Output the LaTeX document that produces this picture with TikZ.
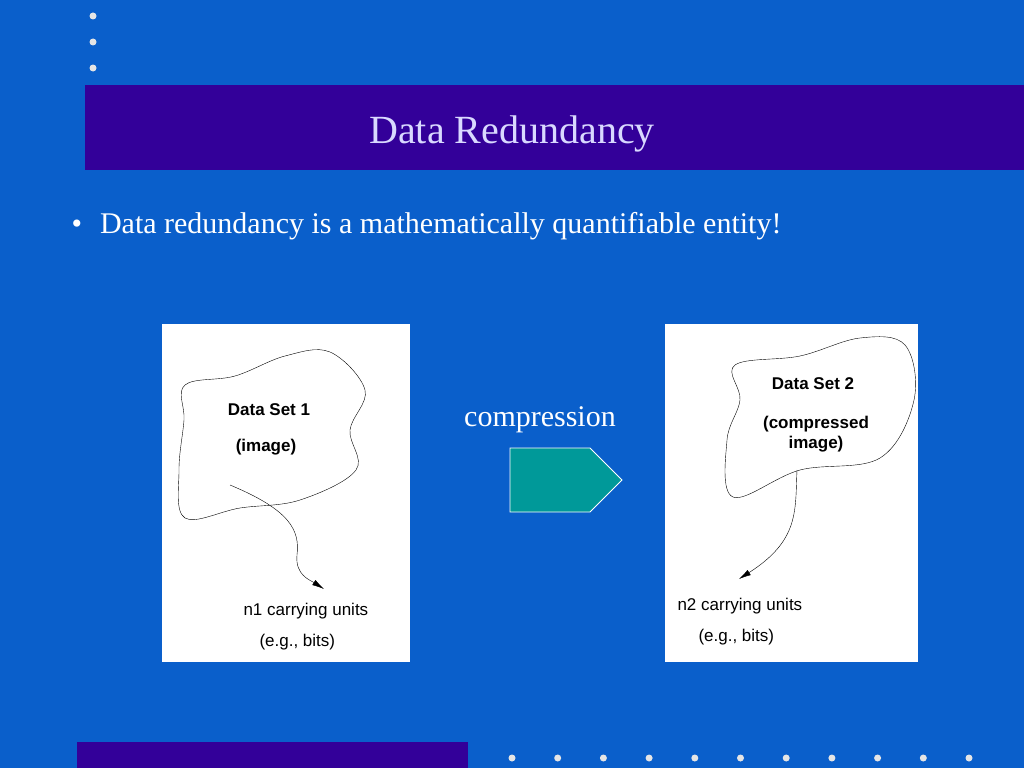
\documentclass[tikz,border=0pt]{standalone}
\usepackage{fontspec}
\setmainfont{Liberation Serif}
\newfontfamily\sansf{Liberation Sans}
\usetikzlibrary{shapes.arrows,arrows.meta}
\definecolor{bg}{HTML}{0A5FCB}
\definecolor{bar}{HTML}{330099}
\definecolor{teal1}{HTML}{009999}
\tikzset{dot/.style={circle,fill=white!80!gray,inner sep=0pt,minimum size=7pt},
 lbl/.style={font=\sansf\bfseries\fontsize{17}{20}\selectfont,align=center},
 unit/.style={font=\sansf\fontsize{17}{20}\selectfont},
 blob/.style={thin,black},
 pointer/.style={thin,black,-{Latex[length=12pt,width=6pt]}}}
\begin{document}
\begin{tikzpicture}[x=1pt,y=-1pt]
\useasboundingbox (0,0) rectangle (1024,768);
\fill[bg] (0,0) rectangle (1024,768);
\fill[bar] (85,85) rectangle (1024,170);
\fill[bar] (77,742) rectangle (468,768);
\foreach \y [count=\i] in {16,42,68} \node[dot] (d\i) at (93,\y) {};
\foreach \i in {0,...,10} \node[dot] (b\i) at (512+\i*45.7,758) {};
\node[text=white!85!blue,font=\fontsize{40}{44}\selectfont] (title) at (512,134) {Data Redundancy};
\node[text=white,font=\fontsize{30}{34}\selectfont,anchor=west] (bul) at (68,226) {\textbullet\hspace{18pt}Data redundancy is a mathematically quantifiable entity!};
\node[fill=white,minimum width=248pt,minimum height=338pt,inner sep=0pt] (p1) at (286,493) {};
\node[fill=white,minimum width=253pt,minimum height=338pt,inner sep=0pt] (p2) at (791.5,493) {};
\draw[blob] plot[smooth cycle,tension=0.6] coordinates {(185,385)(235,376)(285,356)(330,352)(365,390)(350,430)(356,470)(300,500)(240,508)(185,518)(179,470)(184,420)};
\draw[blob] plot[smooth cycle,tension=0.6] coordinates {(735,365)(800,356)(860,338)(905,345)(914,400)(880,458)(800,470)(733,497)(727,440)(740,400)};
\node[lbl] (ds1) at (269,410) {Data Set 1};
\node[lbl] (im1) at (266,447) {(image)};
\node[lbl] (ds2) at (813,384) {Data Set 2};
\node[lbl,align=center] (im2) at (816,434) {(compressed\\image)};
\node[unit,anchor=west] (n1) at (240,611) {n1 carrying units};
\node[unit,anchor=west] (e1) at (256,642) {(e.g., bits)};
\node[unit,anchor=west] (n2) at (674,606) {n2 carrying units};
\node[unit,anchor=west] (e2) at (695,637) {(e.g., bits)};
\coordinate (s1) at (230,485); \coordinate (t1) at (324,589);
\coordinate (s2) at (797,470); \coordinate (t2) at (739,579);
\draw[pointer] (s1) .. controls (290,510) and (300,530) .. (297,555) .. controls (295,575) and (310,580) .. (t1);
\draw[pointer] (s2) .. controls (795,510) and (800,540) .. (t2);
\node[text=white,font=\fontsize{30}{34}\selectfont] (comp) at (540,420) {compression};
\node[single arrow,fill=teal1,draw=white,thick,minimum height=112pt,minimum width=64pt,single arrow head extend=0pt,inner sep=0pt,single arrow tip angle=90,shape border rotate=0] (arr) at (550,480) {};
\end{tikzpicture}
\end{document}
